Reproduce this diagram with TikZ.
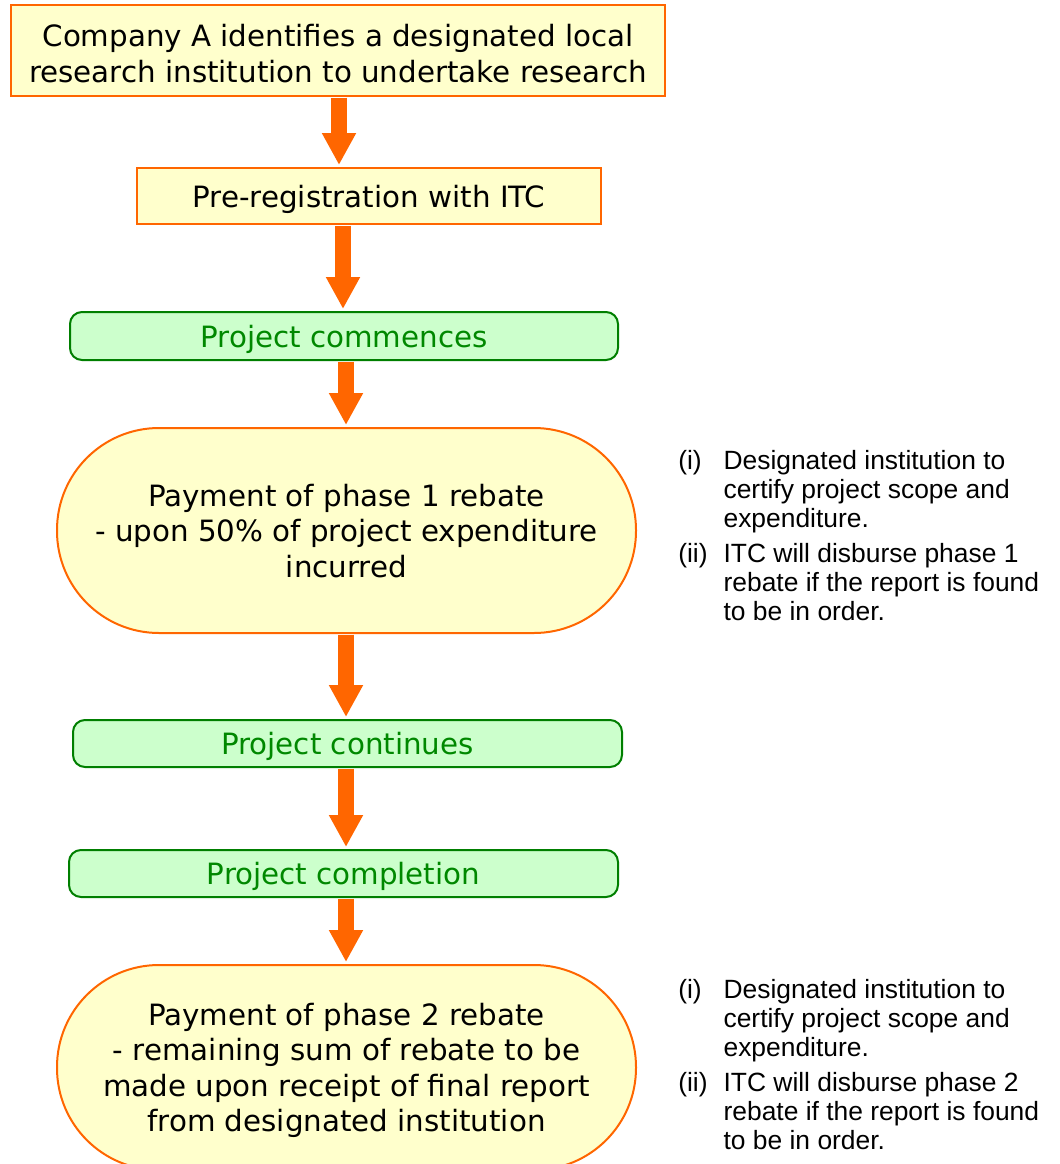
\documentclass[tikz,border=0pt]{standalone}
\usepackage{fontspec}
\setmainfont{DejaVu Sans}
\newfontfamily\notefont{Liberation Sans}
\usetikzlibrary{arrows.meta}
\definecolor{boxyellow}{HTML}{FFFFCC}
\definecolor{boxorange}{HTML}{FF6600}
\definecolor{boxgreen}{HTML}{CCFFCC}
\definecolor{linegreen}{HTML}{007F00}
\definecolor{textgreen}{HTML}{008800}
\begin{document}
\begin{tikzpicture}[x=0.75pt,y=-0.75pt,
  basebox/.style={align=center, inner sep=0pt, text depth=0pt, font=\fontsize{22pt}{26.6pt}\selectfont, line width=1.5pt},
  ybox/.style={basebox, draw=boxorange, fill=boxyellow},
  gbox/.style={basebox, draw=linegreen, fill=boxgreen, text=textgreen, rounded corners=9pt},
  pill/.style={basebox, draw=boxorange, fill=boxyellow, rounded corners=76.5pt},
  arr/.style={draw=boxorange, line width=12pt, -{Triangle[width=24pt,length=24pt]}, shorten >=1.5pt, shorten <=0.5pt},
  note/.style={anchor=base west, inner sep=0pt, font=\notefont\fontsize{19.8pt}{21.75pt}\selectfont}]
\useasboundingbox (0,0) rectangle (1060,1164);
\fill[white] (0,0) rectangle (1060,1164);
\clip (0,0) rectangle (1060,1164);

\node[ybox, minimum width=490.5pt, minimum height=68.25pt, text height=47.8pt] (b1) at (338,50.5)
  {Company A identifies a designated local\\research institution to undertake research};
\node[ybox, minimum width=348pt, minimum height=42pt] (b2) at (369,196)
  {Pre-registration with ITC};
\node[gbox, minimum width=411pt, minimum height=36pt] (g1) at (344,336)
  {Project commences};
\node[pill, minimum width=434.25pt, minimum height=153.75pt] (s1) at (346.5,530.5)
  {Payment of phase 1 rebate\\- upon 50\% of project expenditure\\incurred};
\node[gbox, minimum width=411.75pt, minimum height=35.25pt] (g2) at (347.5,743.5)
  {Project continues};
\node[gbox, minimum width=411.75pt, minimum height=35.25pt] (g3) at (343.5,873.5)
  {Project completion};
\node[pill, minimum width=434.25pt, minimum height=153.75pt] (s2) at (346.5,1067.5)
  {Payment of phase 2 rebate\\- remaining sum of rebate to be\\made upon receipt of final report\\from designated institution};

\coordinate (x1) at (339,0);
\coordinate (x2) at (343,0);
\coordinate (x3) at (346,0);
\draw[arr] (b1.south -| x1) -- (b2.north -| x1);
\draw[arr] (b2.south -| x2) -- (g1.north -| x2);
\draw[arr] (g1.south -| x3) -- (s1.north -| x3);
\draw[arr] (s1.south -| x3) -- (g2.north -| x3);
\draw[arr] (g2.south -| x3) -- (g3.north -| x3);
\draw[arr] (g3.south -| x3) -- (s2.north -| x3);

\node[note] (n1) at (678,469.5) {\begin{tabular}[t]{@{}p{34pt}@{}l@{}}
(i) & Designated institution to\\
    & certify project scope and\\
    & expenditure.\\[4.5pt]
(ii) & ITC will disburse phase 1\\
    & rebate if the report is found\\
    & to be in order.
\end{tabular}};
\node[note] (n2) at (678,998.5) {\begin{tabular}[t]{@{}p{34pt}@{}l@{}}
(i) & Designated institution to\\
    & certify project scope and\\
    & expenditure.\\[4.5pt]
(ii) & ITC will disburse phase 2\\
    & rebate if the report is found\\
    & to be in order.
\end{tabular}};
\end{tikzpicture}
\end{document}
